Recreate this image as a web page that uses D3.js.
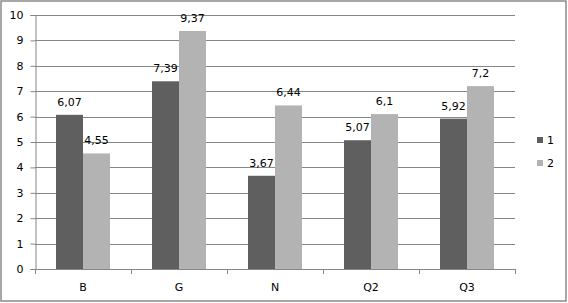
<!DOCTYPE html>
<html>
<head>
<meta charset="utf-8">
<script src="https://cdn.jsdelivr.net/npm/d3@7"></script>
<style>
  body { margin: 0; background: #fff; }
  text { font-family: "DejaVu Sans", Verdana, sans-serif; font-size: 11px; fill: #000; }
</style>
</head>
<body>
<svg width="568" height="303"></svg>
<script>
// data
var categories = ["B", "G", "N", "Q2", "Q3"];
var seriesNames = ["1", "2"];
var series1 = [6.07, 7.39, 3.67, 5.07, 5.92];
var series2 = [4.55, 9.37, 6.44, 6.1, 7.2];
var yTicks = [0, 1, 2, 3, 4, 5, 6, 7, 8, 9, 10];
var colors = ["#5f5f5f", "#b3b3b3"];

var svg = d3.select("svg");

// outer frame
svg.append("rect")
  .attr("x", 1).attr("y", 1)
  .attr("width", 565).attr("height", 300)
  .attr("fill", "#fff")
  .attr("stroke", "#8a8a8a")
  .attr("stroke-width", 1.5);

var plotL = 35, plotR = 515, plotT = 15, plotB = 269;

var x0 = d3.scaleBand()
  .domain(categories)
  .range([plotL, plotR])
  .paddingInner(0.4375)
  .paddingOuter(0.21875);

var x1 = d3.scaleBand()
  .domain(seriesNames)
  .range([0, x0.bandwidth()]);

var y = d3.scaleLinear().domain([0, 10]).range([plotB, plotT]);

// gridlines
svg.append("g")
  .selectAll("line")
  .data(yTicks.slice(1))
  .enter().append("line")
  .attr("x1", plotL).attr("x2", plotR)
  .attr("y1", d => Math.round(y(d)) + 0.5)
  .attr("y2", d => Math.round(y(d)) + 0.5)
  .attr("stroke", "#868686");

// y axis
var yAxis = svg.append("g")
  .attr("transform", "translate(" + (plotL + 0.5) + ",0)")
  .call(d3.axisLeft(y).tickValues(yTicks).tickSize(5).tickPadding(7).tickFormat(d3.format("d")));
yAxis.select(".domain").attr("stroke", "#868686");
yAxis.selectAll(".tick line").attr("stroke", "#868686");
yAxis.selectAll("text").style("font-size", "11px").style("font-family", "DejaVu Sans, sans-serif").attr("fill", "#000");

var rows = categories.map(function(c, i) {
  return { cat: c, vals: [
    { key: seriesNames[0], v: series1[i] },
    { key: seriesNames[1], v: series2[i] }
  ] };
});

var groups = svg.append("g").selectAll("g")
  .data(rows)
  .enter().append("g")
  .attr("transform", d => "translate(" + x0(d.cat) + ",0)");

groups.selectAll("rect")
  .data(d => d.vals)
  .enter().append("rect")
  .attr("x", d => x1(d.key))
  .attr("y", d => y(d.v))
  .attr("width", x1.bandwidth())
  .attr("height", d => y(0) - y(d.v))
  .attr("fill", (d, i) => colors[i]);

groups.selectAll("text")
  .data(d => d.vals)
  .enter().append("text")
  .attr("x", d => x1(d.key) + x1.bandwidth() / 2)
  .attr("y", d => y(d.v) - 9)
  .attr("text-anchor", "middle")
  .text(d => String(d.v).replace(".", ","));

// x axis
var step = x0.step();
var xg = svg.append("g");
xg.append("line")
  .attr("x1", plotL).attr("x2", plotR)
  .attr("y1", plotB + 0.5).attr("y2", plotB + 0.5)
  .attr("stroke", "#868686");
xg.selectAll("line.t")
  .data(d3.range(categories.length + 1))
  .enter().append("line")
  .attr("class", "t")
  .attr("x1", i => Math.round(plotL + i * step) + 0.5)
  .attr("x2", i => Math.round(plotL + i * step) + 0.5)
  .attr("y1", plotB).attr("y2", plotB + 5)
  .attr("stroke", "#868686");
xg.selectAll("text")
  .data(categories)
  .enter().append("text")
  .attr("x", d => x0(d) + x0.bandwidth() / 2)
  .attr("y", 291)
  .attr("text-anchor", "middle")
  .text(d => d);

// legend
var legend = svg.append("g").selectAll("g")
  .data(seriesNames)
  .enter().append("g")
  .attr("transform", (d, i) => "translate(537," + (137 + i * 23) + ")");
legend.append("rect")
  .attr("width", 6).attr("height", 6)
  .attr("fill", (d, i) => colors[i]);
legend.append("text")
  .attr("x", 10).attr("y", 7)
  .text(d => d);
</script>
</body>
</html>
